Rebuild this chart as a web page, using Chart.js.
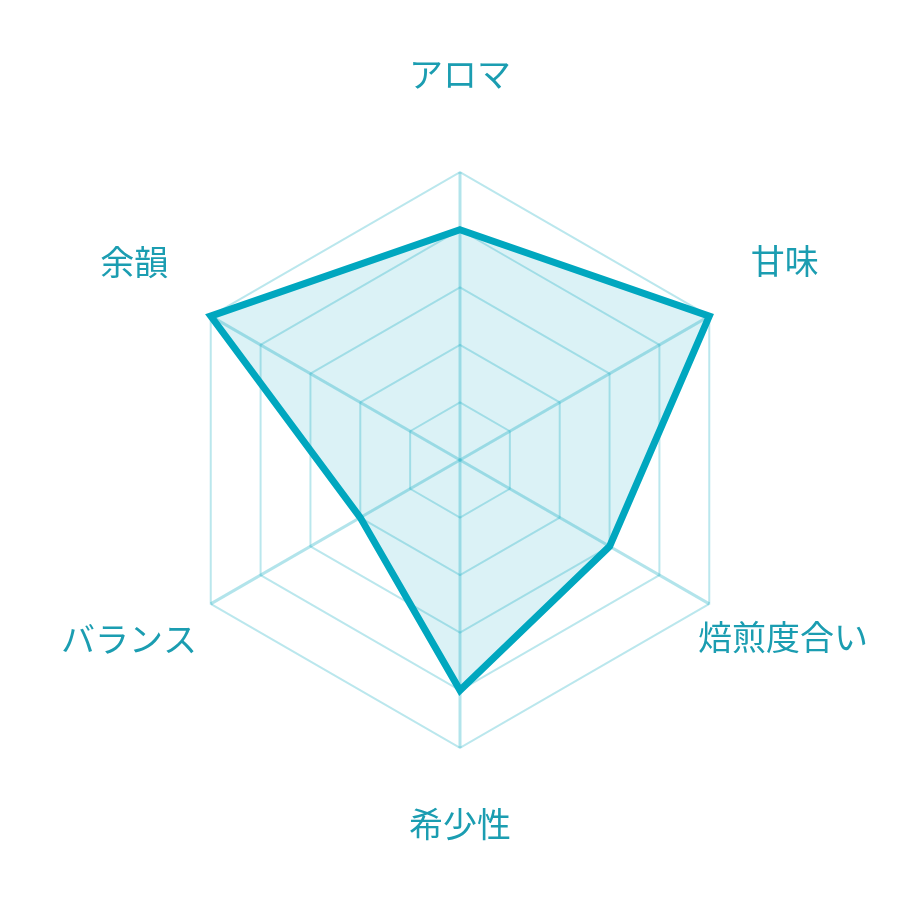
<!DOCTYPE html>
<html>
<head>
<meta charset="utf-8">
<script src="https://cdn.jsdelivr.net/npm/chart.js@4/dist/chart.umd.min.js"></script>
<style>
  html, body { margin: 0; padding: 0; background: #ffffff; }
  #wrap { width: 920px; height: 920px; }
</style>
</head>
<body>
<div id="wrap"><canvas id="tasteChart"></canvas></div>
<script>
const categories = ['アロマ', '甘味', '焙煎度合い', '希少性', 'バランス', '余韻'];
const scores = [4, 5, 3, 4, 2, 5];
const scaleMax = 5;
const scaleStep = 1;

// per-label distance from the outer ring, and line height (moves text up/down)
const labelGap = [78, 48, -13, 56, 16, 49];
const labelLineHeight = [1.2, 1.8, 2.35, 1.2, 1.57, 1.76];

const ctx = document.getElementById('tasteChart').getContext('2d');
new Chart(ctx, {
    type: 'radar',
    data: {
        labels: categories,
        datasets: [{
            label: 'score',
            data: scores,
            borderColor: '#00a7bf',
            backgroundColor: 'rgba(0, 166, 190, 0.14)',
            borderWidth: 7,
            borderJoinStyle: 'miter',
            pointRadius: 0,
            pointHoverRadius: 0,
            fill: true,
        }]
    },
    options: {
        responsive: true,
        maintainAspectRatio: false,
        animation: false,
        layout: { padding: { left: 58, right: 46, top: 41, bottom: 63 } },
        plugins: {
            legend: { display: false },
            tooltip: { enabled: false },
        },
        scales: {
            r: {
                min: 0,
                max: scaleMax,
                ticks: { stepSize: scaleStep, display: false },
                grid: { color: 'rgba(0, 166, 190, 0.27)', lineWidth: 2 },
                angleLines: { color: 'rgba(0, 166, 190, 0.3)', lineWidth: 3 },
                pointLabels: {
                    color: '#1b9db1',
                    font: (c) => ({
                        family: '"Noto Sans CJK JP", "Noto Sans", sans-serif',
                        size: 34,
                        lineHeight: labelLineHeight[c.index],
                    }),
                    padding: (c) => labelGap[c.index],
                }
            }
        }
    }
});
</script>
</body>
</html>
